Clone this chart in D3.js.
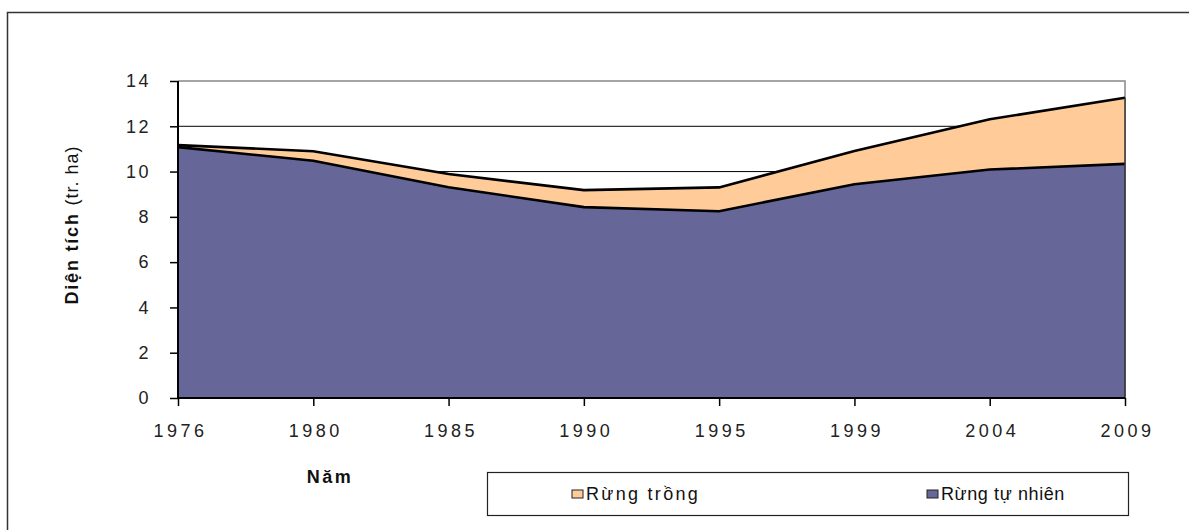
<!DOCTYPE html>
<html>
<head>
<meta charset="utf-8">
<script src="https://cdn.jsdelivr.net/npm/d3@7"></script>
<style>
  body { margin: 0; background: #fff; }
  text { font-family: "Liberation Sans", Arial, sans-serif; }
</style>
</head>
<body>
<div id="chart"></div>
<script>
// years on the x axis
const years = ["1976", "1980", "1985", "1990", "1995", "1999", "2004", "2009"];
// natural forest (million ha)
const rungTuNhien = [11.08, 10.48, 9.31, 8.43, 8.25, 9.44, 10.09, 10.34];
// planted forest (million ha)
const rungTrong = [0.09, 0.42, 0.58, 0.75, 1.05, 1.47, 2.22, 2.92];
const yTicks = [0, 2, 4, 6, 8, 10, 12, 14];

const width = 1189, height = 530;
const margin = {left: 178, right: 64, top: 81, bottom: 132};

const svg = d3.select("#chart").append("svg")
  .attr("width", width).attr("height", height);

// outer frame (runs off the right and bottom)
svg.append("rect")
  .attr("x", 7.5).attr("y", 12.5)
  .attr("width", width + 20).attr("height", height + 20)
  .attr("fill", "none").attr("stroke", "#333").attr("stroke-width", 1.5);

const x = d3.scalePoint().domain(years)
  .range([margin.left, width - margin.right]);
const y = d3.scaleLinear().domain([0, 14])
  .range([height - margin.bottom, margin.top]);

// stacked data
const rows = years.map((yr, i) => ({year: yr, nat: rungTuNhien[i], plant: rungTrong[i]}));
const stack = d3.stack().keys(["nat", "plant"]);
const series = stack(rows);

// gridlines
svg.append("g").selectAll("line")
  .data(yTicks.filter(d => d > 0 && d < 14))
  .join("line")
  .attr("x1", x.range()[0]).attr("x2", x.range()[1])
  .attr("y1", d => y(d)).attr("y2", d => y(d))
  .attr("stroke", "#000").attr("stroke-width", 1);

// plot area border top + right (gray)
svg.append("path")
  .attr("d", `M${x.range()[0]},${y(14)}H${x.range()[1]}V${y(0)}`)
  .attr("fill", "none").attr("stroke", "#888").attr("stroke-width", 1.5);

const colors = {nat: "#666699", plant: "#ffcc99"};

const area = d3.area()
  .x(d => x(d.data.year))
  .y0(d => y(d[0]))
  .y1(d => y(d[1]));

svg.append("g").selectAll("path")
  .data(series)
  .join("path")
  .attr("d", area)
  .attr("fill", d => colors[d.key]);

// outlines along the top of each layer
const topLine = d3.line()
  .x(d => x(d.data.year))
  .y(d => y(d[1]));
svg.append("g").selectAll("path")
  .data(series)
  .join("path")
  .attr("d", topLine)
  .attr("fill", "none")
  .attr("stroke", "#000")
  .attr("stroke-width", 2.6);

// right edge of areas
svg.append("line")
  .attr("x1", x.range()[1]).attr("x2", x.range()[1])
  .attr("y1", y(0)).attr("y2", y(series[1][years.length - 1][1]))
  .attr("stroke", "#333").attr("stroke-width", 1.5);

// axes
const yAxis = d3.axisLeft(y).tickValues(yTicks).tickSize(8).tickPadding(19);
const gy = svg.append("g")
  .attr("transform", `translate(${margin.left},0)`)
  .call(yAxis);
const xAxis = d3.axisBottom(x).tickSize(8).tickPadding(18);
const gx = svg.append("g")
  .attr("transform", `translate(0,${y(0)})`)
  .call(xAxis);

[gy, gx].forEach(g => {
  g.select(".domain").attr("stroke", "#000").attr("stroke-width", 2);
  g.selectAll(".tick line").attr("stroke", "#000").attr("stroke-width", 1.5);
  g.selectAll(".tick text")
    .attr("fill", "#222")
    .style("font-size", "18px")
    .style("letter-spacing", "2.5px");
});
gx.selectAll(".tick text").style("letter-spacing", "3.5px").attr("dx", "2px");
gy.select(".domain").attr("d", `M0,${y(14)}V${y(0)}`);
gx.select(".domain").attr("d", `M${x.range()[0]},0H${x.range()[1]}`);

// y axis title
const yt = svg.append("text")
  .attr("transform", `translate(78,225) rotate(-90)`)
  .attr("text-anchor", "middle")
  .style("font-size", "18px")
  .attr("fill", "#111");
yt.append("tspan").attr("font-weight", "bold")
  .style("letter-spacing", "1.8px").text("Diện tích ");
yt.append("tspan").style("letter-spacing", "1px").text("(tr. ha)");

// x axis title
svg.append("text")
  .attr("x", 330).attr("y", 483)
  .attr("text-anchor", "middle")
  .attr("font-weight", "bold")
  .style("font-size", "18px")
  .style("letter-spacing", "2.5px")
  .attr("fill", "#111")
  .text("Năm");

// legend
const legend = svg.append("g");
legend.append("rect")
  .attr("x", 487.5).attr("y", 472.5)
  .attr("width", 641).attr("height", 43)
  .attr("fill", "#fff").attr("stroke", "#222").attr("stroke-width", 1.2);

const legendItems = [
  {key: "plant", label: "Rừng trồng", x: 572, sp: "2.3px"},
  {key: "nat", label: "Rừng tự nhiên", x: 927, sp: "0.6px"}
];
const li = legend.selectAll("g.item")
  .data(legendItems)
  .join("g").attr("class", "item")
  .attr("transform", d => `translate(${d.x},493)`);
li.append("rect")
  .attr("x", 0).attr("y", -3)
  .attr("width", 11).attr("height", 8)
  .attr("fill", d => colors[d.key])
  .attr("stroke", "#222").attr("stroke-width", 1);
li.append("text")
  .attr("x", 14).attr("y", 7)
  .style("font-size", "18px")
  .style("letter-spacing", d => d.sp)
  .attr("fill", "#111")
  .text(d => d.label);
</script>
</body>
</html>
